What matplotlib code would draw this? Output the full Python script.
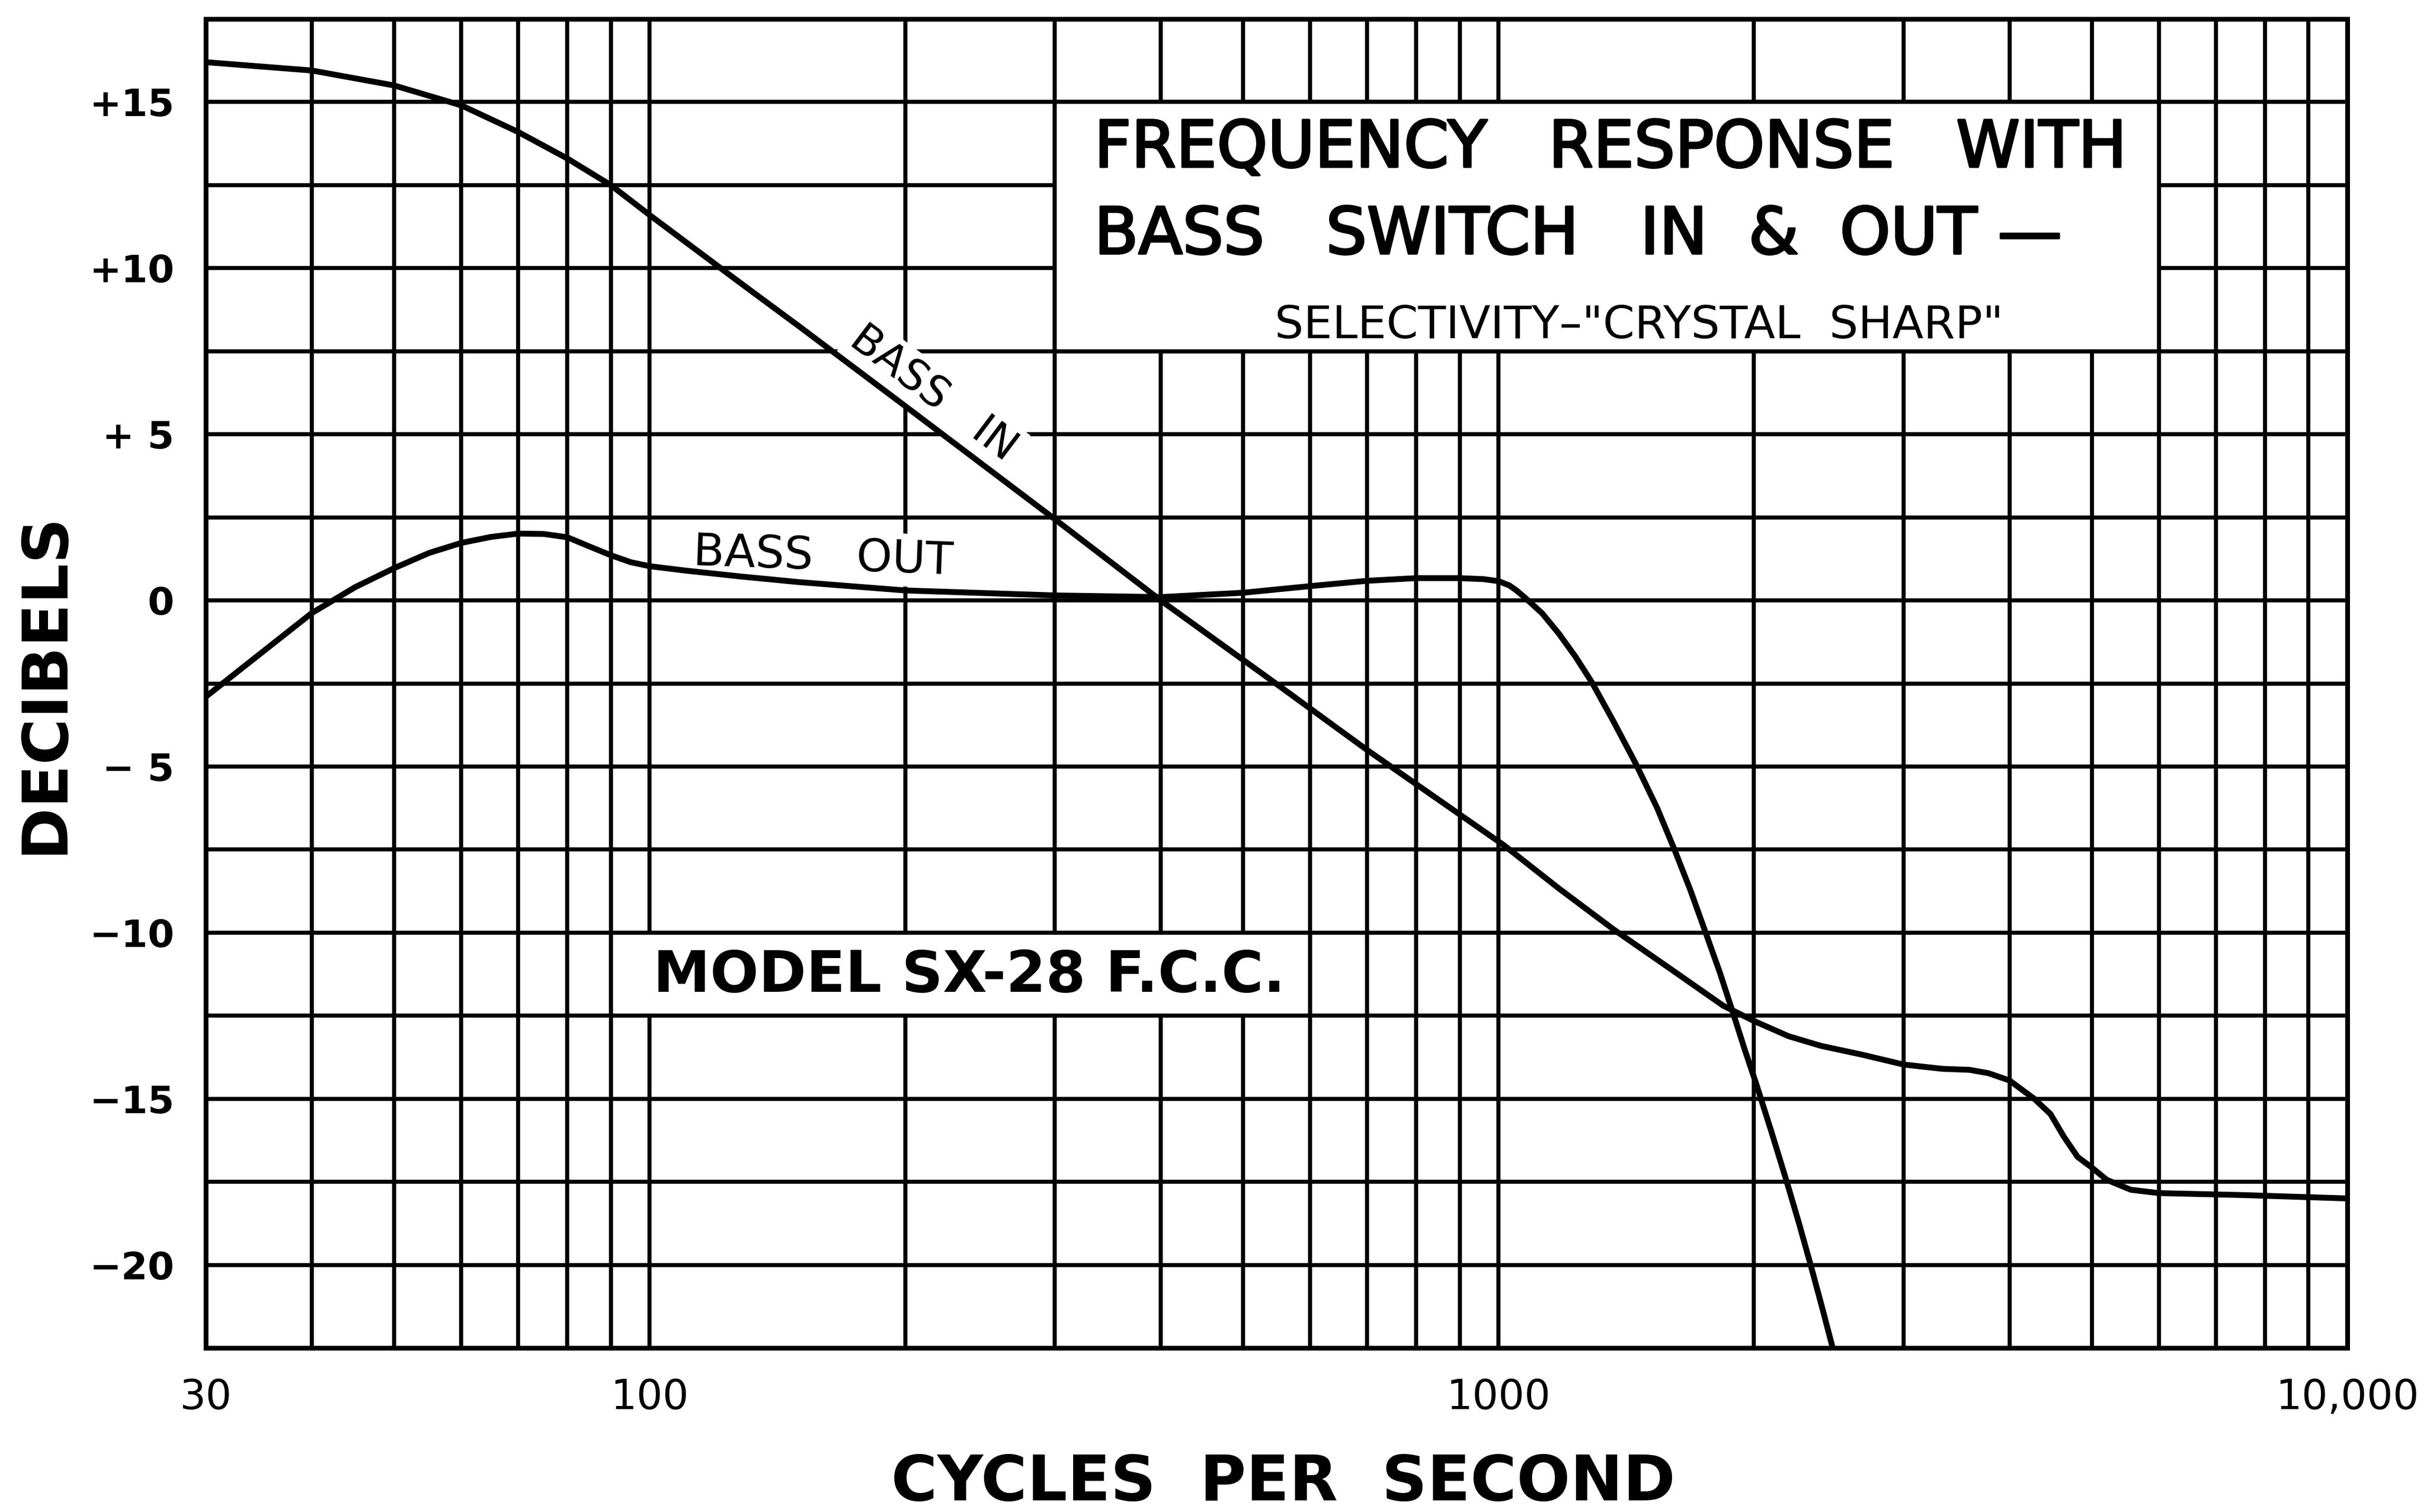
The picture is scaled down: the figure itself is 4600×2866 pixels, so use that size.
import matplotlib
matplotlib.use("Agg")
import matplotlib.pyplot as plt
from matplotlib.patches import Rectangle
from matplotlib.ticker import NullFormatter
import matplotlib.patheffects as pe

# ---------------- data ----------------
freq_in = [30, 40, 50, 60, 70, 80, 90, 100, 128, 150, 200, 300, 400, 550, 700,
           1015, 1178, 1366, 1586, 1840, 2000, 2198, 2400, 2678, 3000, 3336,
           3589, 3777, 4000, 4277, 4470, 4637, 4811, 5000, 5207, 5560, 6000,
           7550, 10000]
db_in = [16.2, 15.95, 15.5, 14.9, 14.1, 13.3, 12.5, 11.6, 9.55, 8.25, 5.85, 2.45,
         0.0, -2.55, -4.5, -7.37, -8.67, -9.9, -11.05, -12.2, -12.66, -13.12,
         -13.41, -13.67, -13.97, -14.1, -14.13, -14.23, -14.45, -15.0, -15.46,
         -16.15, -16.75, -17.07, -17.44, -17.74, -17.84, -17.9, -18.0]

freq_out = [30, 35, 40, 45, 50, 55, 60, 65, 70, 75, 80, 85, 90, 95, 100, 110,
            128, 150, 200, 300, 400, 500, 600, 700, 800, 900, 960, 1000, 1030,
            1050, 1076, 1126, 1178, 1232, 1288, 1366, 1451, 1538, 1613, 1683,
            1753, 1823, 1894, 1952, 2012, 2096, 2186, 2258, 2332, 2404, 2476]
db_out = [-2.9, -1.55, -0.38, 0.4, 0.97, 1.43, 1.73, 1.91, 2.01, 2.0, 1.9,
          1.62, 1.36, 1.15, 1.03, 0.9, 0.72, 0.55, 0.3, 0.15, 0.1, 0.23, 0.43,
          0.59, 0.67, 0.67, 0.64, 0.58, 0.45, 0.3, 0.07, -0.39, -1.0, -1.69,
          -2.46, -3.64, -4.91, -6.25, -7.52, -8.72, -9.98, -11.2, -12.5, -13.55,
          -14.55, -15.98, -17.5, -18.72, -20.0, -21.25, -22.5]

x_tick_vals = [30, 100, 1000, 10000]
x_tick_labels = ["30", "100", "1000", "10,000"]
x_grid = [40, 50, 60, 70, 80, 90, 200, 300, 400, 500, 600, 700, 800, 900,
          2000, 3000, 4000, 5000, 6000, 7000, 8000, 9000]
y_tick_vals = [-20, -15, -10, -5, 0, 5, 10, 15]
y_tick_labels = ["\u221220", "\u221215", "\u221210", "\u2212 5", "0", "+ 5", "+10", "+15"]
y_grid = [-22.5, -17.5, -12.5, -7.5, -2.5, 2.5, 7.5, 12.5, 17.5]

title_lines = ["FREQUENCY   RESPONSE   WITH",
               "BASS   SWITCH   IN  &  OUT \u2014"]
subtitle = "SELECTIVITY\u2013\"CRYSTAL  SHARP\""
model_text = "MODEL SX-28 F.C.C."

# ---------------- figure ----------------
plt.rcParams["font.family"] = ["DejaVu Sans"]
W, H = 4600, 2866
fig = plt.figure(figsize=(W / 100, H / 100), dpi=100)
L, R, T, B = 390, 4449, 36, 2555
ax = fig.add_axes([L / W, 1 - B / H, (R - L) / W, (B - T) / H])

ax.set_xscale("log")
ax.set_xlim(30, 10000)
ax.set_ylim(-22.5, 17.5)

ax.set_xticks(x_tick_vals)
ax.set_xticklabels(x_tick_labels)
ax.set_xticks(x_grid, minor=True)
ax.xaxis.set_minor_formatter(NullFormatter())
ax.set_yticks(y_tick_vals)
ax.set_yticklabels(y_tick_labels)
ax.set_yticks(y_grid, minor=True)

ax.set_axisbelow(True)
ax.grid(which="both", color="black", linewidth=5.5)
ax.tick_params(which="both", length=0)
ax.tick_params(axis="y", pad=43, labelsize=52)
ax.tick_params(axis="x", pad=40, labelsize=56)
for lab in ax.get_yticklabels():
    lab.set_fontweight("bold")

for sp in ax.spines.values():
    sp.set_linewidth(6.5)
    sp.set_color("black")

# white boxes holding the captions
ax.add_patch(Rectangle((300, 7.5), 6000 - 300, 7.5, facecolor="white",
                       edgecolor="black", linewidth=5.5, zorder=1))
ax.add_patch(Rectangle((90, -12.5), 600 - 90, 2.5, facecolor="white",
                       edgecolor="black", linewidth=5.5, zorder=1))

# curves
ax.plot(freq_in, db_in, color="black", linewidth=8, zorder=4,
        solid_capstyle="butt", solid_joinstyle="round")
ax.plot(freq_out, db_out, color="black", linewidth=8, zorder=4,
        solid_capstyle="butt", solid_joinstyle="round")

# captions
thick = [pe.withStroke(linewidth=3, foreground="black")]
ax.text(334, 13.58, title_lines[0], fontsize=88, ha="left", va="center",
        zorder=5, path_effects=thick)
ax.text(334, 10.97, title_lines[1], fontsize=88, ha="left", va="center",
        zorder=5, path_effects=thick)
ax.text(1465, 8.27, subtitle, fontsize=62, ha="center", va="center", zorder=5)
ax.text(238, -11.3, model_text, fontsize=78, fontweight="bold",
        ha="center", va="center", zorder=5)

ax.text(216, 6.23, "BASS   IN", fontsize=58, rotation=-37,
        rotation_mode="anchor", ha="center", va="center", zorder=3,
        bbox=dict(facecolor="white", edgecolor="none", pad=6))
ax.text(160, 1.3, "BASS   OUT", fontsize=62, rotation=-2,
        rotation_mode="anchor", ha="center", va="center", zorder=3,
        bbox=dict(facecolor="white", edgecolor="none", pad=6))

# axis titles
fig.text(85 / W, 1 - 1295 / H, "DECIBELS", rotation=90, fontsize=86,
         fontweight="bold", ha="center", va="center")
fig.text(2432 / W, 1 - 2811 / H, "CYCLES  PER  SECOND", fontsize=86,
         fontweight="bold", ha="center", va="center")

fig.savefig("out.png", dpi=100, facecolor="white")
